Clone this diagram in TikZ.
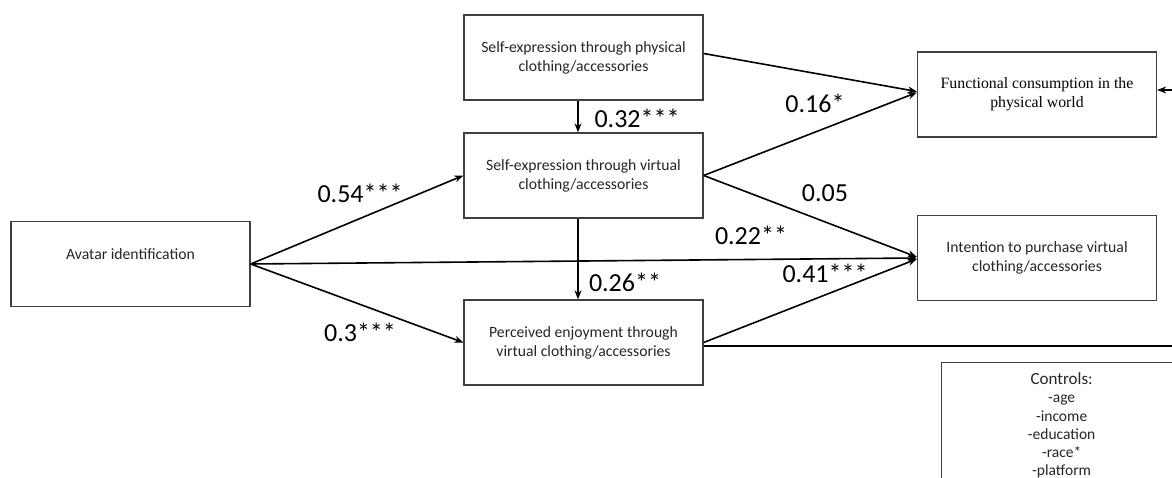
\documentclass[tikz,border=0pt]{standalone}
\usepackage{fontspec}
\setmainfont{Carlito}
\newfontfamily\serifbox{Liberation Serif}
\usetikzlibrary{arrows.meta,calc}

\tikzset{
  construct/.style={draw=black!75, line width=1.3pt, fill=white, align=center,
    minimum width=239pt, minimum height=85pt, inner sep=0pt, text=black!85,
    font=\fontsize{15.7}{19}\selectfont},
  path arrow/.style={draw=black, line width=1.6pt,
    -{Stealth[length=9pt,width=7pt]}},
  path line/.style={draw=black, line width=1.6pt},
  coef/.style={font=\fontsize{26}{30}\selectfont, text=black, inner sep=0pt}
}

\begin{document}
\begin{tikzpicture}[x=1pt,y=-1pt]
  \useasboundingbox (0,0) rectangle (1172,478);
  \clip (0,0) rectangle (1172,478);
  \fill[white] (0,0) rectangle (1172,478);

  % constructs
  \node[construct] (avatar) at (130.5,264) {};
  \node[font=\fontsize{15.7}{19}\selectfont, text=black!85] (avatarlabel) at (130.5,254) {Avatar identification};
  \node[construct] (phys) at (583.5,57.5) {Self-expression through physical\\clothing/accessories};
  \node[construct] (virt) at (583.5,175.5) {Self-expression through virtual\\clothing/accessories};
  \node[construct] (enjoy) at (583.5,342.5) {Perceived enjoyment through\\virtual clothing/accessories};
  \node[construct, font=\serifbox\fontsize{15.8}{19}\selectfont, text=black] (func) at (1037,94.5) {Functional consumption in the\\physical world};
  \node[construct] (intent) at (1037,258) {Intention to purchase virtual\\clothing/accessories};

  % control variables
  \node[draw=black!75, line width=1.3pt, anchor=north west, minimum width=240pt,
        inner ysep=10pt, align=center, text=black!85,
        font=\fontsize{15.5}{18.3}\selectfont] (controls) at (941,362)
        {{\fontsize{17}{18.3}\selectfont Controls:}\\-age\\-income\\-education\\-race*\\-platform};

  % loose ends leaving at the right
  \coordinate (edgeF) at (1172,90);
  \coordinate (edgeE) at (1172,346);

  % paths
  \draw[path arrow] (avatar.east) -- (virt.west);
  \draw[path arrow] (avatar.east) -- (enjoy.west);
  \draw[path arrow] (avatar.east) -- (intent.west);
  \draw[path arrow] (phys.south -| 578,0) -- (virt.north -| 578,0);
  \draw[path arrow] (virt.south -| 578,0) -- (enjoy.north -| 578,0);
  \draw[path arrow] ([yshift=4pt]phys.east) -- ([yshift=3pt]func.west);
  \draw[path arrow] (virt.east) -- ([yshift=2pt]func.west);
  \draw[path arrow] (virt.east) -- ([yshift=1pt]intent.west);
  \draw[path arrow] (enjoy.east) -- ([yshift=-1pt]intent.west);
  \draw[path line] ([yshift=-3.5pt]enjoy.east) -- ([yshift=-3.5pt]enjoy.east -| edgeE);
  \draw[path arrow, line width=1.4pt] (edgeF) -- (edgeF -| func.east);

  % coefficients
  \node[coef] (c1) at (360,193) {0.54***};
  \node[coef] (c2) at (360,332) {0.3***};
  \node[coef] (c3) at (637,118) {0.32***};
  \node[coef] (c4) at (625,282) {0.26**};
  \node[coef] (c5) at (751,235) {0.22**};
  \node[coef] (c6) at (825,273) {0.41***};
  \node[coef] (c7) at (825,193) {0.05};
  \node[coef] (c8) at (815,103) {0.16*};
\end{tikzpicture}
\end{document}
